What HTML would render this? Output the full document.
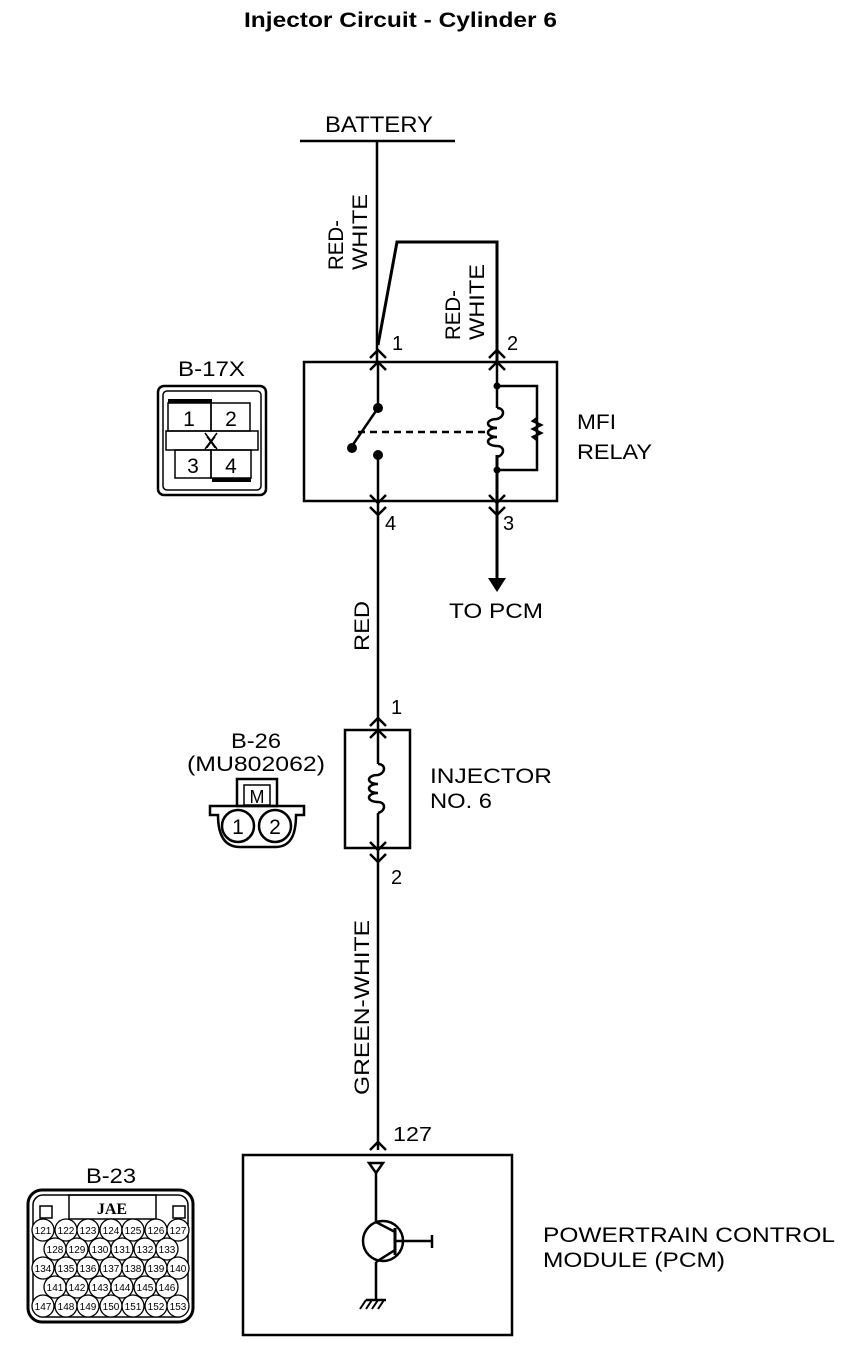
<!DOCTYPE html>
<html><head><meta charset="utf-8"><style>
html,body{margin:0;padding:0;background:#fff;}
svg{display:block;font-family:"Liberation Sans",sans-serif;}
</style></head><body>
<svg width="864" height="1358" viewBox="0 0 864 1358" xmlns="http://www.w3.org/2000/svg">
<rect width="864" height="1358" fill="#fff"/>
<g fill="#000" lengthAdjust="spacingAndGlyphs">
<text x="244" y="27" font-size="21" font-weight="bold" textLength="313" lengthAdjust="spacingAndGlyphs">Injector Circuit - Cylinder 6</text>
<text x="325" y="132" font-size="22" textLength="108" lengthAdjust="spacingAndGlyphs">BATTERY</text>
<text x="392" y="350" font-size="20">1</text>
<text x="507" y="350" font-size="20">2</text>
<text x="385" y="530" font-size="20">4</text>
<text x="503" y="530" font-size="20">3</text>
<text x="449" y="618" font-size="21" textLength="94" lengthAdjust="spacingAndGlyphs">TO PCM</text>
<text x="577" y="429" font-size="21" textLength="39" lengthAdjust="spacingAndGlyphs">MFI</text>
<text x="577" y="459" font-size="21" textLength="75" lengthAdjust="spacingAndGlyphs">RELAY</text>
<text x="391" y="714" font-size="20">1</text>
<text x="391" y="884" font-size="20">2</text>
<text x="430" y="783" font-size="21" textLength="122" lengthAdjust="spacingAndGlyphs">INJECTOR</text>
<text x="430" y="808" font-size="21" textLength="62" lengthAdjust="spacingAndGlyphs">NO. 6</text>
<text x="393" y="1141" font-size="20" textLength="39" lengthAdjust="spacingAndGlyphs">127</text>
<text x="543" y="1242" font-size="21" textLength="292" lengthAdjust="spacingAndGlyphs">POWERTRAIN CONTROL</text>
<text x="543" y="1267" font-size="21" textLength="182" lengthAdjust="spacingAndGlyphs">MODULE (PCM)</text>
<text x="178" y="376" font-size="21" textLength="67" lengthAdjust="spacingAndGlyphs">B-17X</text>
<text x="231" y="748" font-size="21" textLength="50" lengthAdjust="spacingAndGlyphs">B-26</text>
<text x="187" y="771" font-size="21" textLength="138" lengthAdjust="spacingAndGlyphs">(MU802062)</text>
<text x="86" y="1183" font-size="21" textLength="50" lengthAdjust="spacingAndGlyphs">B-23</text>
<text transform="translate(343,270) rotate(-90)" font-size="21" textLength="50" lengthAdjust="spacingAndGlyphs">RED-</text>
<text transform="translate(367,270) rotate(-90)" font-size="21" textLength="76" lengthAdjust="spacingAndGlyphs">WHITE</text>
<text transform="translate(460,340) rotate(-90)" font-size="21" textLength="50" lengthAdjust="spacingAndGlyphs">RED-</text>
<text transform="translate(484,340) rotate(-90)" font-size="21" textLength="76" lengthAdjust="spacingAndGlyphs">WHITE</text>
<text transform="translate(369,651) rotate(-90)" font-size="21" textLength="50" lengthAdjust="spacingAndGlyphs">RED</text>
<text transform="translate(369,1095) rotate(-90)" font-size="21" textLength="175" lengthAdjust="spacingAndGlyphs">GREEN-WHITE</text>
</g>
<g stroke="#000" stroke-width="2.5" fill="none">
<line x1="300" y1="141" x2="455" y2="141"/>
<line x1="377" y1="141" x2="377" y2="362"/>
<polyline points="378,345 397,242 497,242 497,362" stroke-width="3"/>
<rect x="304" y="362" width="253" height="139"/>
<line x1="378" y1="362" x2="378" y2="408"/>
<line x1="378" y1="455" x2="378" y2="730"/>
<line x1="352" y1="446" x2="378" y2="408"/>
<line x1="358" y1="432" x2="490" y2="432" stroke-dasharray="7,5"/>
<line x1="497" y1="362" x2="497" y2="408"/>
<line x1="497" y1="455" x2="497" y2="580" stroke-width="3"/>
<path d="M497,386 H537 V470 H497"/>
<path d="M537,418 l-4,3 l8,4 l-8,4 l8,4 l-8,4 l4,3"/>
<path d="M497,408 c8,0 8,9 0,11 c-12,0 -12,9 0,9 c-12,0 -12,9 0,9 c-12,0 -12,9 0,9 c8,0 8,9 0,11"/>
<rect x="345" y="730" width="65" height="118"/>
<line x1="378" y1="730" x2="378" y2="764"/>
<path d="M378,764 c8,0 8,9 0,11 c-12,0 -12,9 0,9 c-12,0 -12,9 0,9 c-12,0 -12,9 0,9 c8,0 8,9 0,11"/>
<line x1="378" y1="813" x2="378" y2="1150"/>
<rect x="243" y="1155" width="269" height="180"/>
<polygon points="369,1163 383,1163 376,1173"/>
<line x1="376" y1="1173" x2="376" y2="1222"/>
<circle cx="383" cy="1241" r="20"/>
<line x1="395" y1="1228" x2="395" y2="1255" stroke-width="3"/>
<line x1="376" y1="1222" x2="395" y2="1232"/>
<line x1="395" y1="1250" x2="376" y2="1262"/>
<line x1="395" y1="1241" x2="432" y2="1241"/>
<line x1="432" y1="1235" x2="432" y2="1248"/>
<line x1="376" y1="1262" x2="376" y2="1300"/>
<line x1="366" y1="1300" x2="386" y2="1300"/>
<path d="M366,1300 l-6,9 M372,1300 l-6,9 M378,1300 l-6,9 M384,1300 l-6,9" stroke-width="2"/>
<path d="M370,358 L378,350 L386,358 M370,370 L378,362 L386,370"/>
<path d="M489,358 L497,350 L505,358 M489,370 L497,362 L505,370"/>
<path d="M370,495 L378,503 L386,495 M370,507 L378,515 L386,507"/>
<path d="M489,495 L497,503 L505,495 M489,507 L497,515 L505,507"/>
<path d="M370,726 L378,718 L386,726 M370,738 L378,730 L386,738"/>
<path d="M370,842 L378,850 L386,842 M370,854 L378,862 L386,854"/>
<path d="M370,1150 L378,1142 L386,1150"/>
<rect x="158" y="386" width="108" height="109" rx="6"/>
<rect x="163" y="391" width="98" height="99" rx="4" stroke-width="1.5"/>
<rect x="168" y="403" width="43" height="28" stroke-width="1.5"/>
<rect x="211" y="403" width="39" height="28" stroke-width="1.5"/>
<rect x="166" y="431" width="92" height="19" stroke-width="1.5"/>
<rect x="175" y="450" width="36" height="28" stroke-width="1.5"/>
<rect x="211" y="450" width="40" height="28" stroke-width="1.5"/>
<line x1="168" y1="401" x2="212" y2="401" stroke-width="4"/>
<line x1="212" y1="480" x2="251" y2="480" stroke-width="4"/>
<path d="M205,433 L217,449 M217,433 L205,449" stroke-width="1.5"/>
<rect x="237" y="779" width="40" height="27"/>
<rect x="244" y="785" width="26" height="20" stroke-width="1.5"/>
<path d="M210,806 H304 V815 H296 C296,836 290,847 275,847 H240 C225,847 218,836 218,815 H210 Z"/>
<circle cx="238" cy="826" r="16"/>
<circle cx="275" cy="826" r="16"/>
<rect x="28" y="1190" width="165" height="132" rx="14" stroke-width="3"/>
<rect x="33" y="1195" width="155" height="122" rx="10" stroke-width="1.5"/>
<rect x="69" y="1195" width="87" height="24" stroke-width="1.5"/>
<rect x="40" y="1206" width="12" height="12" stroke-width="1.5"/>
<rect x="173" y="1206" width="12" height="12" stroke-width="1.5"/>
</g>
<g fill="#000" stroke="none">
<circle cx="378" cy="408" r="5"/>
<circle cx="378" cy="455" r="5"/>
<circle cx="352" cy="448" r="5"/>
<circle cx="497" cy="386" r="3.5"/>
<circle cx="497" cy="470" r="3.5"/>
<polygon points="488,578 506,578 497,592"/>
<text x="189" y="426" font-size="21" text-anchor="middle">1</text>
<text x="231" y="426" font-size="21" text-anchor="middle">2</text>
<text x="193" y="473" font-size="21" text-anchor="middle">3</text>
<text x="231" y="473" font-size="21" text-anchor="middle">4</text>
<text x="211" y="448" font-size="16" text-anchor="middle">X</text>
<text x="257" y="803" font-size="18" text-anchor="middle">M</text>
<text x="238" y="834" font-size="21" text-anchor="middle">1</text>
<text x="275" y="834" font-size="21" text-anchor="middle">2</text>
<text x="112" y="1214" font-size="16" font-family="Liberation Serif" font-weight="bold" text-anchor="middle">JAE</text>
</g>
<g stroke="#000" stroke-width="1.3" fill="#fff">
<circle cx="43" cy="1230" r="11"/><circle cx="66" cy="1230" r="11"/><circle cx="88" cy="1230" r="11"/><circle cx="111" cy="1230" r="11"/><circle cx="133" cy="1230" r="11"/><circle cx="156" cy="1230" r="11"/><circle cx="178" cy="1230" r="11"/>
<circle cx="55" cy="1249" r="11"/><circle cx="77" cy="1249" r="11"/><circle cx="100" cy="1249" r="11"/><circle cx="122" cy="1249" r="11"/><circle cx="145" cy="1249" r="11"/><circle cx="167" cy="1249" r="11"/>
<circle cx="43" cy="1268" r="11"/><circle cx="66" cy="1268" r="11"/><circle cx="88" cy="1268" r="11"/><circle cx="111" cy="1268" r="11"/><circle cx="133" cy="1268" r="11"/><circle cx="156" cy="1268" r="11"/><circle cx="178" cy="1268" r="11"/>
<circle cx="55" cy="1287" r="11"/><circle cx="77" cy="1287" r="11"/><circle cx="100" cy="1287" r="11"/><circle cx="122" cy="1287" r="11"/><circle cx="145" cy="1287" r="11"/><circle cx="167" cy="1287" r="11"/>
<circle cx="43" cy="1306" r="11"/><circle cx="66" cy="1306" r="11"/><circle cx="88" cy="1306" r="11"/><circle cx="111" cy="1306" r="11"/><circle cx="133" cy="1306" r="11"/><circle cx="156" cy="1306" r="11"/><circle cx="178" cy="1306" r="11"/>
</g>
<g fill="#000" font-size="10" text-anchor="middle" font-family="Liberation Sans Narrow, Liberation Sans, sans-serif">
<text x="43" y="1234">121</text><text x="66" y="1234">122</text><text x="88" y="1234">123</text><text x="111" y="1234">124</text><text x="133" y="1234">125</text><text x="156" y="1234">126</text><text x="178" y="1234">127</text>
<text x="55" y="1253">128</text><text x="77" y="1253">129</text><text x="100" y="1253">130</text><text x="122" y="1253">131</text><text x="145" y="1253">132</text><text x="167" y="1253">133</text>
<text x="43" y="1272">134</text><text x="66" y="1272">135</text><text x="88" y="1272">136</text><text x="111" y="1272">137</text><text x="133" y="1272">138</text><text x="156" y="1272">139</text><text x="178" y="1272">140</text>
<text x="55" y="1291">141</text><text x="77" y="1291">142</text><text x="100" y="1291">143</text><text x="122" y="1291">144</text><text x="145" y="1291">145</text><text x="167" y="1291">146</text>
<text x="43" y="1310">147</text><text x="66" y="1310">148</text><text x="88" y="1310">149</text><text x="111" y="1310">150</text><text x="133" y="1310">151</text><text x="156" y="1310">152</text><text x="178" y="1310">153</text>
</g>
</svg>
</body></html>
